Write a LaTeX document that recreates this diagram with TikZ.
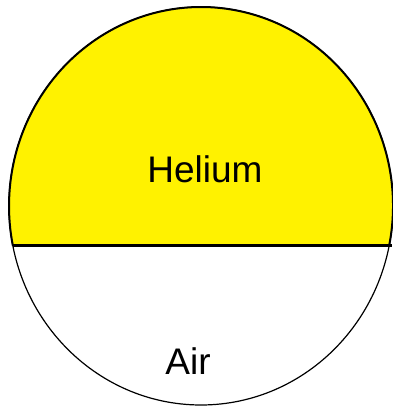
\documentclass[tikz,border=0pt]{standalone}
\usepackage{fontspec}
\setmainfont{Liberation Sans}
\begin{document}
\begin{tikzpicture}[x=1pt,y=1pt,
  lbl/.style={inner sep=0pt,anchor=base,font=\fontsize{37}{40}\selectfont}]
\useasboundingbox (0,0) rectangle (392,406);
\coordinate (c) at (201,200);
% whole balloon outline
\draw[line width=1.2pt] (c) ellipse[x radius=192, y radius=199];
% helium segment
\fill[yellow] (c) ++(-11.6:192 and 199) arc[start angle=-11.6, end angle=191.6, x radius=192, y radius=199] -- cycle;
\draw[line width=2pt] (c) ++(-11.6:192 and 199) arc[start angle=-11.6, end angle=191.6, x radius=192, y radius=199];
\coordinate (chl) at (13,160);
\coordinate (chr) at (392,160);
\draw[line width=3pt] (chl) -- (chr);
\node[lbl] (helium) at (205,223) {Helium};
\node[lbl] (air) at (188,31) {Air};
\end{tikzpicture}
\end{document}
